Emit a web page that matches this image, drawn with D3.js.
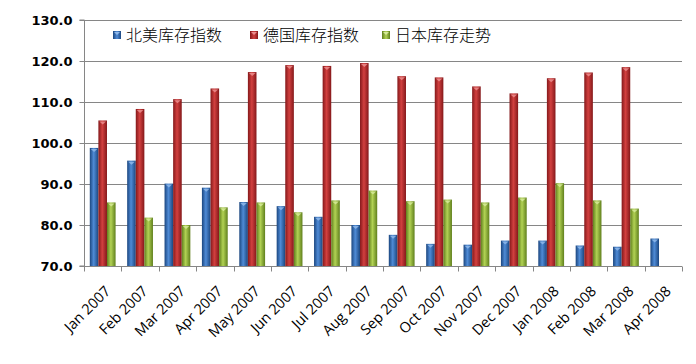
<!DOCTYPE html>
<html><head><meta charset="utf-8">
<script src="https://cdn.jsdelivr.net/npm/d3@7"></script>
<style>body{margin:0;background:#fff}svg{display:block}</style>
</head><body><svg id="c" width="696" height="364"></svg>
<script>
const categories = ["Jan 2007","Feb 2007","Mar 2007","Apr 2007","May 2007","Jun 2007","Jul 2007","Aug 2007","Sep 2007","Oct 2007","Nov 2007","Dec 2007","Jan 2008","Feb 2008","Mar 2008","Apr 2008"];
const seriesNames = ["北美库存指数","德国库存指数","日本库存走势"];
const northAmerica = [98.8,95.7,90.1,89.1,85.6,84.6,82.0,80.0,77.6,75.4,75.2,76.2,76.2,75.0,74.7,76.7];
const germany = [105.5,108.3,110.7,113.3,117.3,119.0,118.8,119.5,116.3,116.0,113.8,112.1,115.8,117.2,118.5,null];
const japan = [85.5,81.8,80.0,84.3,85.5,83.1,86.0,88.4,85.8,86.2,85.5,86.7,90.2,86.0,84.0,null];
const yTicks = [70,80,90,100,110,120,130];

const svg = d3.select("#c");
const L = 84, R = 682, T = 20, B = 266;
const x = d3.scaleBand().domain(categories).range([L, R]).padding(0);
const y = d3.scaleLinear().domain([70,130]).range([B, T]);
const xi = d3.scaleBand().domain([0,1,2]).range([x.bandwidth()*0.155, x.bandwidth()*0.845]).padding(0);

const colors = [
  {edge:"#1b467f", mid:"#4f8bd6", cap:"#8fb8ea"},
  {edge:"#84181a", mid:"#d2403f", cap:"#ec8e8e"},
  {edge:"#5f7f1c", mid:"#b2d254", cap:"#d6ea9a"}
];
const defs = svg.append("defs");
colors.forEach((c,i)=>{
  const g = defs.append("linearGradient").attr("id","g"+i).attr("x1","0").attr("x2","1").attr("y1","0").attr("y2","0");
  g.append("stop").attr("offset","0").attr("stop-color",c.edge);
  g.append("stop").attr("offset","0.45").attr("stop-color",c.mid);
  g.append("stop").attr("offset","1").attr("stop-color",c.edge);
  const l = defs.append("linearGradient").attr("id","l"+i).attr("x1","0").attr("x2","1").attr("y1","0").attr("y2","0");
  l.append("stop").attr("offset","0").attr("stop-color",c.edge);
  l.append("stop").attr("offset","0.5").attr("stop-color",c.mid);
  l.append("stop").attr("offset","1").attr("stop-color",c.edge);
});

// gridlines
svg.append("g").selectAll("line").data(yTicks.filter(v=>v>70)).join("line")
  .attr("x1",L).attr("x2",R).attr("y1",d=>Math.round(y(d))+0.5).attr("y2",d=>Math.round(y(d))+0.5)
  .attr("stroke","#868686").attr("stroke-width",1);

// bars
const all = [northAmerica, germany, japan];
all.forEach((arr,si)=>{
  const g = svg.append("g");
  const data = categories.map((c,i)=>({c, v:arr[i]})).filter(d=>d.v!=null);
  g.selectAll("rect.bar").data(data).join("rect").attr("class","bar")
    .attr("x",d=>x(d.c)+xi(si)).attr("width",xi.bandwidth())
    .attr("y",d=>y(d.v)).attr("height",d=>B-y(d.v))
    .attr("fill","url(#g"+si+")");
  g.selectAll("path.cap").data(data).join("path").attr("class","cap")
    .attr("d",d=>{const x0=x(d.c)+xi(si), w=xi.bandwidth(), yt=y(d.v);
      return `M${x0+1},${yt+1}L${x0+w-1},${yt+1}L${x0+w/2},${yt+4}Z`;})
    .attr("fill",colors[si].cap).attr("opacity",0.85);
});

// y axis
const ya = svg.append("g").attr("transform",`translate(${L+0.5},0)`)
  .call(d3.axisLeft(y).tickValues(yTicks).tickSize(5).tickPadding(7).tickFormat(d3.format(".1f")));
ya.select(".domain").attr("stroke","#868686").attr("d",`M-5,${y(130)}H0V${B}H-5`);
ya.selectAll(".tick line").attr("stroke","#868686");
ya.selectAll(".tick text").attr("font-family","DejaVu Sans").attr("font-weight","bold").attr("font-size","13px").attr("fill","#000");

// x axis
const xa = svg.append("g").attr("transform",`translate(0,${B+0.5})`);
xa.append("line").attr("x1",L).attr("x2",R).attr("stroke","#868686");
xa.selectAll("line.t").data(categories.concat(["end"])).join("line").attr("class","t")
  .attr("x1",(d,i)=>Math.round(i<categories.length?x(d):R)+0.5).attr("x2",(d,i)=>Math.round(i<categories.length?x(d):R)+0.5)
  .attr("y1",0).attr("y2",5).attr("stroke","#868686");
xa.selectAll("text").data(categories).join("text")
  .attr("transform",d=>`translate(${x(d)+x.bandwidth()/2+5},${22}) rotate(-45)`)
  .attr("text-anchor","end").attr("dy","0.35em")
  .attr("font-family","Open Sans").attr("font-size","14.5px").attr("fill","#000")
  .text(d=>d);

// legend
const legX = [113, 250, 382];
const lg = svg.append("g");
seriesNames.forEach((n,i)=>{
  lg.append("rect").attr("x",legX[i]).attr("y",31).attr("width",8).attr("height",8)
    .attr("fill","url(#l"+i+")");
  lg.append("path").attr("d",`M${legX[i]+1},${32}L${legX[i]+7},${32}L${legX[i]+4},${35}Z`).attr("fill",colors[i].cap);
  lg.append("text").attr("x",legX[i]+13).attr("y",41).attr("font-family","Noto Sans CJK SC")
    .attr("font-size","16px").attr("font-weight","300").attr("fill","#000").text(n);
});
</script></body></html>
